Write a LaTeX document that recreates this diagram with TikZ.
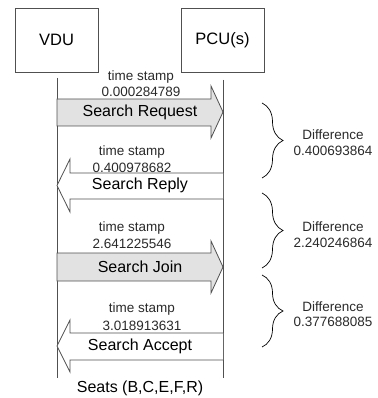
\documentclass[tikz,border=0pt]{standalone}
\usepackage{fontspec}
\setmainfont{Liberation Sans}
\usetikzlibrary{decorations.pathreplacing}
\definecolor{linegray}{HTML}{505050}
\definecolor{fillgray}{HTML}{E2E2E2}
\definecolor{txtgray}{HTML}{2A2A2A}
\tikzset{
  x=1pt, y=-1pt,
  unitbox/.style={draw=linegray, line width=0.8pt, minimum width=83pt, minimum height=64pt, inner sep=0pt, font=\fontsize{16.5}{18}\selectfont},
  lifeline/.style={draw=linegray, line width=0.8pt},
  msgarrow/.style={draw=linegray, line width=0.8pt},
  smalltxt/.style={inner sep=0pt, text=txtgray, font=\fontsize{13.5}{15}\selectfont},
  bigtxt/.style={inner sep=0pt, font=\fontsize{16}{18}\selectfont},
  bracestyle/.style={draw=black, line width=0.7pt, decorate, decoration={brace, amplitude=21pt, aspect=0.5}},
}
\begin{document}
\begin{tikzpicture}
\useasboundingbox (0,0) rectangle (377,398);
% boxes
\node[unitbox] (vdu) at (56.5,40) {VDU};
\node[unitbox] (pcu) at (222.5,40.5) {PCU(s)};
% lifelines
\coordinate (vdutop) at (57,78);
\coordinate (vdubot) at (57,378);
\coordinate (pcutop) at (223,80);
\coordinate (pcubot) at (223,378);
\draw[lifeline] (vdutop) -- (vdubot);
\draw[lifeline] (pcutop) -- (pcubot);
% arrow 1: Search Request (right)
\draw[msgarrow, fill=fillgray] (57,99) -- (211,99) -- (211,86) -- (223,112) -- (211,138) -- (211,126) -- (57,126) -- cycle;
% arrow 2: Search Reply (left)
\draw[msgarrow, fill=white] (223,173) -- (70,173) -- (70,159) -- (57,185.5) -- (70,212) -- (70,199) -- (223,199);
% arrow 3: Search Join (right)
\draw[msgarrow, fill=fillgray] (57,253) -- (211,253) -- (211,241) -- (223,267) -- (211,293) -- (211,281) -- (57,281) -- cycle;
% arrow 4: Search Accept (left)
\draw[msgarrow, fill=white] (223,333) -- (70,333) -- (70,320) -- (57,346) -- (70,372) -- (70,360) -- (223,360);
% texts
\node[smalltxt] (ts1) at (141,77) {time stamp};
\node[smalltxt] (v1) at (141,91.5) {0.000284789};
\node[bigtxt] (m1) at (140,112) {Search Request};
\node[smalltxt] (ts2) at (132,152) {time stamp};
\node[smalltxt] (v2) at (132,168) {0.400978682};
\node[bigtxt] (m2) at (140,185.5) {Search Reply};
\node[smalltxt] (ts3) at (132,228) {time stamp};
\node[smalltxt] (v3) at (132,244) {2.641225546};
\node[bigtxt] (m3) at (140,267) {Search Join};
\node[smalltxt] (ts4) at (142,309) {time stamp};
\node[smalltxt] (v4) at (142,326) {3.018913631};
\node[bigtxt] (m4) at (140,346) {Search Accept};
\node[bigtxt] (seats) at (140,388) {Seats (B,C,E,F,R)};
% braces
\coordinate (b1t) at (262,103);
\coordinate (b1b) at (262,178);
\coordinate (b2t) at (262,193);
\coordinate (b2b) at (262,268);
\coordinate (b3t) at (262,275);
\coordinate (b3b) at (262,347);
\draw[bracestyle] (b1t) -- (b1b);
\draw[bracestyle] (b2t) -- (b2b);
\draw[bracestyle] (b3t) -- (b3b);
\node[smalltxt] (d1) at (333,135) {Difference};
\node[smalltxt] (dv1) at (333,151) {0.400693864};
\node[smalltxt] (d2) at (333,227) {Difference};
\node[smalltxt] (dv2) at (333,243) {2.240246864};
\node[smalltxt] (d3) at (333,307) {Difference};
\node[smalltxt] (dv3) at (333,322) {0.377688085};
\end{tikzpicture}
\end{document}
